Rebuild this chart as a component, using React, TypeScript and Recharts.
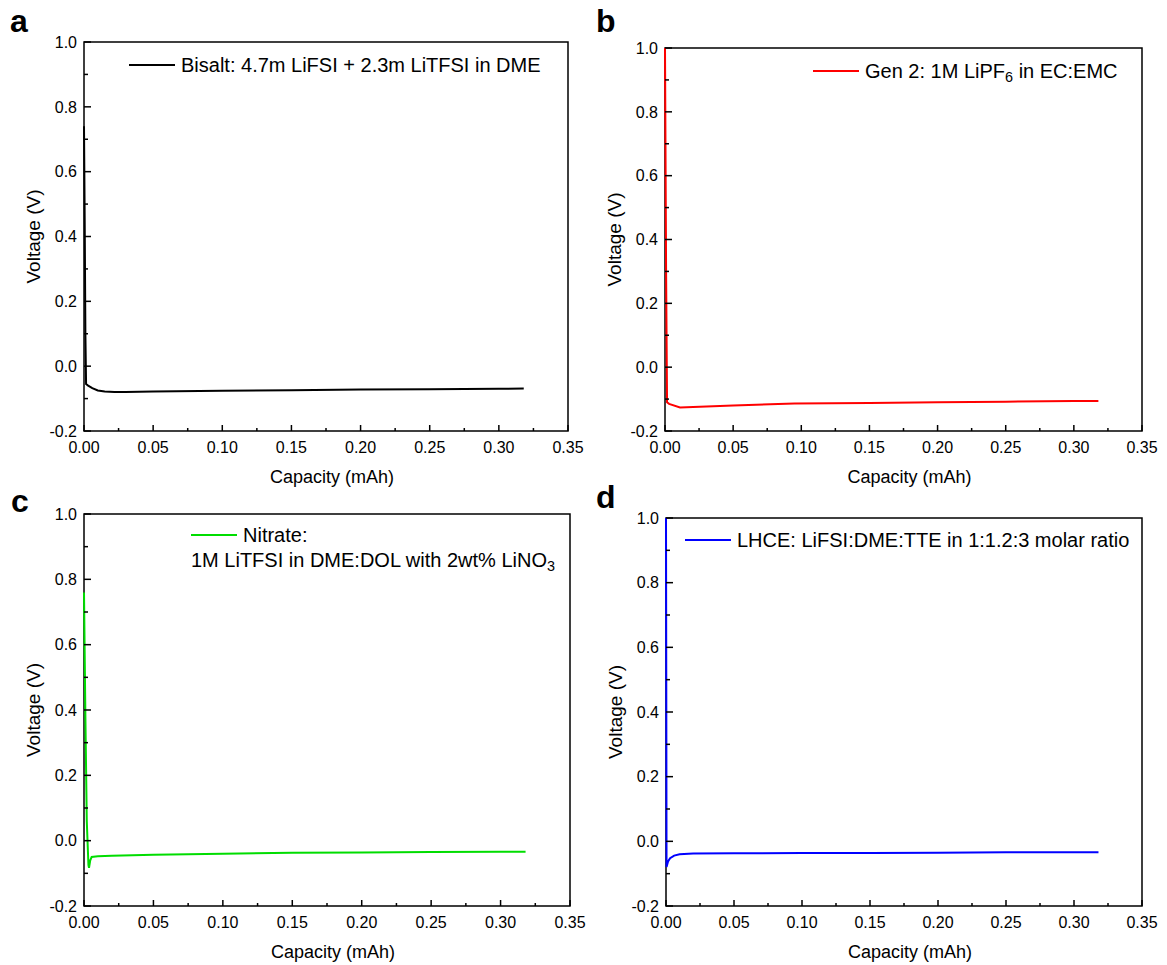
import React from 'react';
import { LineChart, Line, XAxis, YAxis, ReferenceArea, Legend, Label } from 'recharts';

const FONT = "'Liberation Sans', Arial, sans-serif";

const xTicks = [0, 0.025, 0.05, 0.075, 0.1, 0.125, 0.15, 0.175, 0.2, 0.225, 0.25, 0.275, 0.3, 0.325, 0.35];
const yTicks = [-0.2, -0.1, 0, 0.1, 0.2, 0.3, 0.4, 0.5, 0.6, 0.7, 0.8, 0.9, 1.0];

// Panel a: Bisalt
const capA = [0, 0.0005, 0.001, 0.0015, 0.003, 0.006, 0.01, 0.015, 0.022, 0.03, 0.05, 0.1, 0.15, 0.2, 0.25, 0.3, 0.318];
const voltA = [0.74, 0.45, 0.1, -0.055, -0.06, -0.068, -0.075, -0.078, -0.08, -0.08, -0.078, -0.076, -0.074, -0.072, -0.071, -0.07, -0.069];

// Panel b: Gen 2
const capB = [0, 0.0008, 0.0015, 0.003, 0.011, 0.05, 0.095, 0.15, 0.2, 0.25, 0.3, 0.318];
const voltB = [1.0, 0.3, -0.11, -0.115, -0.126, -0.12, -0.114, -0.112, -0.11, -0.108, -0.106, -0.106];

// Panel c: Nitrate
const capC = [0, 0.001, 0.002, 0.0032, 0.0036, 0.0045, 0.0055, 0.01, 0.02, 0.05, 0.1, 0.15, 0.2, 0.25, 0.3, 0.318];
const voltC = [0.76, 0.38, 0.06, -0.075, -0.083, -0.06, -0.05, -0.048, -0.046, -0.043, -0.04, -0.037, -0.036, -0.035, -0.034, -0.034];

// Panel d: LHCE
const capD = [0, 0.0002, 0.0004, 0.001, 0.0015, 0.003, 0.006, 0.01, 0.02, 0.05, 0.1, 0.15, 0.2, 0.25, 0.3, 0.318];
const voltD = [1.0, 0.5, -0.079, -0.07, -0.062, -0.052, -0.044, -0.04, -0.038, -0.037, -0.036, -0.036, -0.035, -0.034, -0.034, -0.034];

const toData = (xs: number[], ys: number[]) => xs.map((x, i) => ({ x, v: ys[i] }));

const sub = (s: string) => (
  <sub style={{ fontSize: '0.72em', verticalAlign: '-0.3em', lineHeight: 0 }}>{s}</sub>
);

const panels = [
  {
    letter: 'a', letterX: 10, letterY: 32,
    left: 0, top: 0, width: 590, height: 490,
    plotLeft: 84, plotTop: 42, plotRight: 568, plotBottom: 431,
    color: '#000000', data: toData(capA, voltA),
    legendX: 129, legendY: 65,
    line1: <>Bisalt: 4.7m LiFSI + 2.3m LiTFSI in DME</>, line2: null,
  },
  {
    letter: 'b', letterX: 596, letterY: 32,
    left: 590, top: 0, width: 577, height: 490,
    plotLeft: 665, plotTop: 48, plotRight: 1142, plotBottom: 431,
    color: '#ff0000', data: toData(capB, voltB),
    legendX: 813, legendY: 71,
    line1: <>Gen 2: 1M LiPF{sub('6')} in EC:EMC</>, line2: null,
  },
  {
    letter: 'c', letterX: 11, letterY: 512,
    left: 0, top: 480, width: 590, height: 485,
    plotLeft: 84, plotTop: 514, plotRight: 570, plotBottom: 906,
    color: '#00dd00', data: toData(capC, voltC),
    legendX: 191, legendY: 535,
    line1: <>Nitrate:</>, line2: <>1M LiTFSI in DME:DOL with 2wt% LiNO{sub('3')}</>,
  },
  {
    letter: 'd', letterX: 596, letterY: 508,
    left: 590, top: 480, width: 577, height: 485,
    plotLeft: 666, plotTop: 518, plotRight: 1142, plotBottom: 906,
    color: '#0000ff', data: toData(capD, voltD),
    legendX: 685, legendY: 540,
    line1: <>LHCE: LiFSI:DME:TTE in 1:1.2:3 molar ratio</>, line2: null,
  },
];

function Panel({ p }: { p: any }) {
  const pl = p.plotLeft - p.left;
  const pr = p.plotRight - p.left;
  const pt = p.plotTop - p.top;
  const pb = p.plotBottom - p.top;
  const xH = p.height - pb;
  const mRight = p.width - pr;
  const midY = (pt + pb) / 2;
  const midX = (pl + pr) / 2 + 6;

  const xTick = (props: any) => {
    const { x, payload } = props;
    const v = payload.value;
    const major = Math.round(v * 1000) % 50 === 0;
    return (
      <g>
        <line x1={x} x2={x} y1={pb} y2={pb - (major ? 6 : 3)} stroke="#000" strokeWidth={1.5} />
        {major && (
          <text x={x} y={pb + 16} dy="0.36em" textAnchor="middle" fontSize={16} fontFamily={FONT} fill="#000">
            {v.toFixed(2)}
          </text>
        )}
      </g>
    );
  };
  const yTick = (props: any) => {
    const { y, payload } = props;
    const v = payload.value;
    const major = Math.round(v * 10) % 2 === 0;
    return (
      <g>
        <line x1={pl} x2={pl + (major ? 7 : 4)} y1={y} y2={y} stroke="#000" strokeWidth={1.5} />
        {major && (
          <text x={pl - 7} y={y} dy="0.36em" textAnchor="end" fontSize={16} fontFamily={FONT} fill="#000">
            {v.toFixed(1)}
          </text>
        )}
      </g>
    );
  };

  const legendContent = () => (
    <div style={{ fontFamily: FONT, fontSize: 20, color: '#000', lineHeight: '25px', whiteSpace: 'nowrap' }}>
      <div style={{ display: 'flex', alignItems: 'center', height: 25 }}>
        <span style={{ display: 'inline-block', width: 46, height: 2, background: p.color, marginRight: 6 }} />
        <span>{p.line1}</span>
      </div>
      {p.line2 && <div style={{ height: 25 }}>{p.line2}</div>}
    </div>
  );

  return (
    <div style={{ position: 'absolute', left: p.left, top: p.top, width: p.width, height: p.height }}>
      <LineChart width={p.width} height={p.height} data={p.data} margin={{ top: pt, right: mRight, left: 0, bottom: 0 }}>
        <ReferenceArea x1={0} x2={0.35} y1={-0.2} y2={1.0} fill="none" stroke="#000" strokeWidth={1.5} ifOverflow="visible" />
        <XAxis
          type="number" dataKey="x" domain={[0, 0.35]} ticks={xTicks} interval={0}
          height={xH} axisLine={false} tickLine={false} tickSize={0} tickMargin={0} tick={xTick}
        >
          <Label
            content={() => (
              <text x={midX} y={pb + 46} dy="0.36em" textAnchor="middle" fontSize={18} fontFamily={FONT} fill="#000">
                Capacity (mAh)
              </text>
            )}
          />
        </XAxis>
        <YAxis
          type="number" domain={[-0.2, 1.0]} ticks={yTicks} interval={0}
          width={pl} axisLine={false} tickLine={false} tickSize={0} tickMargin={0} tick={yTick}
        >
          <Label
            content={() => (
              <text
                x={pl - 51} y={midY} dy="0.36em" textAnchor="middle" fontSize={19} fontFamily={FONT} fill="#000"
                transform={`rotate(-90 ${pl - 51} ${midY})`}
              >
                Voltage (V)
              </text>
            )}
          />
        </YAxis>
        <Legend
          verticalAlign="middle" align="center" layout="horizontal"
          wrapperStyle={{ top: p.legendY - p.top - 12.5, left: p.legendX - p.left, width: 'auto', height: 'auto' }}
          content={legendContent}
        />
        <Line
          type="linear" dataKey="v" stroke={p.color} strokeWidth={2} dot={false}
          isAnimationActive={false} name="series"
        />
      </LineChart>
      <div
        style={{
          position: 'absolute', left: p.letterX - p.left, top: p.letterY - p.top - 27,
          fontFamily: FONT, fontWeight: 'bold', fontSize: 32, lineHeight: '32px', color: '#000',
        }}
      >
        {p.letter}
      </div>
    </div>
  );
}

export default function App() {
  return (
    <div style={{ position: 'absolute', left: 0, top: 0, width: 1167, height: 965, background: '#fff' }}>
      {panels.map((p) => (
        <Panel key={p.letter} p={p} />
      ))}
    </div>
  );
}
